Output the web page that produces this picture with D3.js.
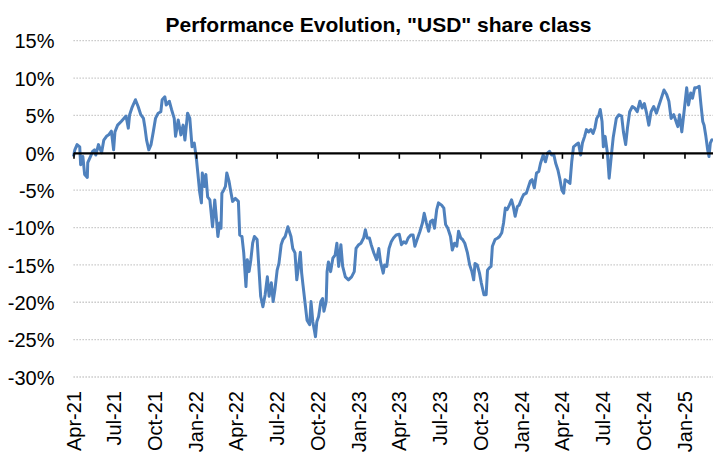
<!DOCTYPE html>
<html>
<head>
    <title>Performance Evolution</title>
    <script src="https://d3js.org/d3.v7.min.js"></script>
    <style>
        body { margin: 0; background: #fff; }
        svg { display: block; }
        text { font-family: Arial, "Liberation Sans", sans-serif; fill: #000; }
    </style>
</head>
<body>
    <div id="chart"></div>
    <script>
        // Values (cumulative performance, %)
        const dates = [
            "2021-04-01","2021-04-04","2021-04-09","2021-04-15","2021-04-17","2021-04-22","2021-04-26",
            "2021-05-02","2021-05-03","2021-05-09","2021-05-14","2021-05-18","2021-05-21","2021-05-27",
            "2021-06-03","2021-06-08","2021-06-14","2021-06-19","2021-06-25","2021-06-30",
            "2021-07-03","2021-07-09","2021-07-17","2021-07-23","2021-07-28",
            "2021-08-02","2021-08-05","2021-08-10","2021-08-18","2021-08-24","2021-08-30",
            "2021-09-05","2021-09-08","2021-09-12","2021-09-17","2021-09-22","2021-09-27",
            "2021-10-02","2021-10-08","2021-10-14","2021-10-17","2021-10-23","2021-10-26",
            "2021-11-02","2021-11-07","2021-11-13","2021-11-16","2021-11-22","2021-11-28",
            "2021-12-03","2021-12-07","2021-12-13","2021-12-18","2021-12-23","2021-12-28",
            "2022-01-02","2022-01-05","2022-01-09","2022-01-13","2022-01-15","2022-01-20","2022-01-23","2022-01-27",
            "2022-02-01","2022-02-07","2022-02-12","2022-02-16","2022-02-19","2022-02-23","2022-02-26","2022-02-28",
            "2022-03-04","2022-03-08","2022-03-11","2022-03-16","2022-03-20","2022-03-24","2022-03-30",
            "2022-04-06","2022-04-09","2022-04-14","2022-04-18","2022-04-23","2022-04-26","2022-04-30",
            "2022-05-04","2022-05-08","2022-05-12","2022-05-18","2022-05-22","2022-05-26","2022-05-31",
            "2022-06-05","2022-06-10","2022-06-14","2022-06-19","2022-06-23","2022-06-27",
            "2022-07-02","2022-07-06","2022-07-11","2022-07-15","2022-07-20","2022-07-26",
            "2022-08-02","2022-08-06","2022-08-11","2022-08-15","2022-08-19","2022-08-23","2022-08-26","2022-08-29",
            "2022-09-03","2022-09-07","2022-09-13","2022-09-16","2022-09-20","2022-09-24","2022-09-26","2022-09-29",
            "2022-10-03","2022-10-08","2022-10-12","2022-10-15","2022-10-20","2022-10-22","2022-10-25","2022-10-30",
            "2022-11-04","2022-11-09","2022-11-13","2022-11-17","2022-11-22","2022-11-26",
            "2022-12-02","2022-12-09","2022-12-16","2022-12-22","2022-12-26",
            "2023-01-01","2023-01-06","2023-01-12","2023-01-16","2023-01-20","2023-01-25","2023-01-29",
            "2023-02-04","2023-02-10","2023-02-15","2023-02-19","2023-02-25","2023-02-28",
            "2023-03-05","2023-03-10","2023-03-15","2023-03-20","2023-03-26",
            "2023-04-02","2023-04-07","2023-04-12","2023-04-17","2023-04-22","2023-04-28",
            "2023-05-03","2023-05-07","2023-05-12","2023-05-18","2023-05-24","2023-05-28",
            "2023-06-02","2023-06-07","2023-06-11","2023-06-16","2023-06-20","2023-06-25","2023-06-29",
            "2023-07-06","2023-07-11","2023-07-15","2023-07-20","2023-07-26","2023-07-30",
            "2023-08-04","2023-08-09","2023-08-13","2023-08-18","2023-08-22","2023-08-27",
            "2023-09-02","2023-09-07","2023-09-12","2023-09-16","2023-09-19","2023-09-24","2023-09-29",
            "2023-10-03","2023-10-09","2023-10-14","2023-10-17","2023-10-21","2023-10-25","2023-10-28",
            "2023-11-03","2023-11-09","2023-11-13","2023-11-18","2023-11-22","2023-11-26","2023-11-30",
            "2023-12-05","2023-12-10","2023-12-14","2023-12-18","2023-12-23","2023-12-27",
            "2024-01-02","2024-01-06","2024-01-12","2024-01-16","2024-01-21","2024-01-25","2024-01-30",
            "2024-02-04","2024-02-09","2024-02-13","2024-02-19","2024-02-24","2024-02-29",
            "2024-03-04","2024-03-09","2024-03-14","2024-03-18","2024-03-23","2024-03-27",
            "2024-04-01","2024-04-05","2024-04-08","2024-04-13","2024-04-19","2024-04-23","2024-04-27",
            "2024-05-03","2024-05-08","2024-05-13","2024-05-17","2024-05-22","2024-05-26","2024-05-31",
            "2024-06-05","2024-06-10","2024-06-14","2024-06-18","2024-06-23","2024-06-26","2024-06-30",
            "2024-07-03","2024-07-07","2024-07-12","2024-07-16","2024-07-21","2024-07-25",
            "2024-08-01","2024-08-07","2024-08-13","2024-08-17","2024-08-22","2024-08-26","2024-08-31",
            "2024-09-06","2024-09-11","2024-09-17","2024-09-23","2024-09-28",
            "2024-10-03","2024-10-08","2024-10-13","2024-10-18","2024-10-24","2024-10-30",
            "2024-11-05","2024-11-10","2024-11-16","2024-11-22","2024-11-27",
            "2024-12-02","2024-12-08","2024-12-12","2024-12-17","2024-12-21","2024-12-26",
            "2025-01-01","2025-01-06","2025-01-10","2025-01-15","2025-01-19","2025-01-24","2025-01-28",
            "2025-02-03","2025-02-07","2025-02-11","2025-02-14","2025-02-18","2025-02-22","2025-02-25","2025-02-28",
            "2025-03-03","2025-03-06"
        ];
        const values = [
            -0.5, 0.4, 1.1, 0.8, -1.6, -0.5, -2.9,
            -3.3, -1.3, -0.5, 0.2, 0.4, -0.3, 1.1,
            0.0, 1.7, 2.2, 2.4, 2.9, 0.4,
            2.8, 3.7, 4.2, 4.6, 4.9,
            3.3, 5.1, 6.0, 7.1, 6.2, 5.1,
            4.6, 3.5, 1.7, 0.4, 1.1, 2.8,
            4.6, 5.3, 5.5, 7.1, 7.5, 6.4,
            6.9, 5.8, 4.6, 2.2, 4.4, 2.4,
            3.7, 1.7, 5.3, 4.6, 0.8, 1.3,
            -0.9, -2.7, -5.2, -6.7, -2.7, -4.5, -2.9, -5.9,
            -6.3, -9.9, -6.3, -9.0, -11.2, -9.4, -10.1, -5.4,
            -5.0, -4.5, -2.7, -3.8, -5.2, -6.5, -6.1,
            -6.5, -11.0, -11.2, -13.4, -17.9, -14.3, -15.9,
            -14.3, -12.1, -11.2, -11.6, -15.4, -19.2, -20.6,
            -19.0, -16.6, -19.2, -17.4, -19.9, -18.3,
            -15.7, -14.8, -12.3, -11.6, -11.2, -9.9,
            -11.2, -12.8, -13.4, -17.0, -15.2, -13.3, -16.1, -17.7,
            -20.3, -22.4, -23.0, -19.9, -22.6, -23.9, -24.6, -22.6,
            -21.9, -19.9, -19.5, -21.2, -19.9, -15.9, -14.6, -15.9,
            -14.1, -13.7, -12.1, -15.2, -12.3, -15.2,
            -16.6, -17.0, -16.6, -15.9, -12.8,
            -12.3, -12.1, -11.4, -10.3, -11.4, -11.4, -12.3,
            -13.4, -14.3, -12.8, -14.6, -16.1, -15.0,
            -15.2, -12.8, -11.9, -11.4, -11.0,
            -10.9, -12.3, -11.9, -12.1, -11.4, -11.0,
            -11.0, -12.5, -11.6, -10.6, -9.4, -8.1,
            -9.4, -10.5, -9.2, -9.0, -10.1, -7.6, -6.7,
            -7.0, -7.4, -9.6, -10.1, -11.2, -13.0,
            -12.1, -12.5, -10.5, -11.4, -11.6, -12.1,
            -13.4, -15.0, -15.9, -17.0, -14.8, -15.0, -16.1,
            -17.4, -19.0, -19.0, -15.7, -15.4, -15.2, -12.5,
            -11.6, -11.4, -11.2, -10.7, -9.4, -7.4, -7.6,
            -7.0, -6.3, -7.2, -8.5, -7.2, -7.0,
            -6.1, -5.6, -5.4, -4.7, -3.8, -3.6, -4.7,
            -2.7, -2.5, -1.4, -0.3, -1.2, 0.0,
            0.2, -0.3, -0.3, -1.4, -2.3, -3.4,
            -5.0, -5.4, -3.6, -3.8, -4.1, -1.2, 0.8,
            1.1, 1.3, -0.3, 1.3, 2.2, 3.1, 2.8,
            3.1, 2.6, 3.3, 4.6, 5.1, 5.8, 4.2,
            0.8, 2.2, 0.0, -3.4, -0.3, 2.0,
            4.6, 5.1, 4.9, 2.8, 1.1, 3.3, 5.5,
            6.2, 6.0, 5.5, 6.9, 6.0,
            6.6, 5.3, 3.7, 5.5, 6.2, 5.3,
            6.4, 7.3, 8.4, 7.8, 6.9,
            4.6, 5.1, 4.4, 3.5, 5.1, 2.8,
            6.0, 8.7, 6.4, 8.0, 7.3, 8.7, 8.7,
            8.9, 6.4, 4.2, 3.7, 2.2, 0.4, -0.5, 1.3,
            1.7, 1.8
        ];
        const yTicks = [15, 10, 5, 0, -5, -10, -15, -20, -25, -30];
        const chartTitle = 'Performance Evolution, "USD" share class';

        const width = 713, height = 453;
        const margin = { top: 40.7, right: 0, bottom: 76, left: 73.5 };

        const parse = d3.timeParse("%Y-%m-%d");
        const data = dates.map((d, i) => ({ date: parse(d), value: values[i] }));

        const svg = d3.select("#chart")
            .append("svg")
            .attr("width", width)
            .attr("height", height);

        const x = d3.scaleTime()
            .domain([parse("2021-04-01"), parse("2025-03-06")])
            .range([margin.left, width - margin.right]);

        const y = d3.scaleLinear()
            .domain([-30, 15])
            .range([height - margin.bottom, margin.top]);

        // Dotted gridlines
        svg.append("g")
            .selectAll("line")
            .data(yTicks.filter(t => t !== 0))
            .enter()
            .append("line")
            .attr("x1", margin.left)
            .attr("x2", width - margin.right)
            .attr("y1", d => y(d))
            .attr("y2", d => y(d))
            .style("stroke", "#c0c0c0")
            .style("stroke-width", 1.3)
            .style("stroke-dasharray", "1.3,1.7");

        // Y axis labels
        const yAxis = d3.axisLeft(y)
            .tickValues(yTicks)
            .tickSize(0)
            .tickPadding(0)
            .tickFormat(d => d + "%");
        svg.append("g")
            .attr("transform", `translate(${margin.left - 19},0)`)
            .call(yAxis)
            .call(g => g.select(".domain").remove())
            .call(g => g.selectAll("text")
                .style("font-size", "20px")
                .style("font-family", "Arial, 'Liberation Sans', sans-serif")
                .attr("dy", "0.36em"));

        // Series line
        const line = d3.line()
            .x(d => x(d.date))
            .y(d => y(d.value));

        svg.append("path")
            .datum(data)
            .attr("d", line)
            .style("fill", "none")
            .style("stroke", "#4F81BD")
            .style("stroke-width", 3)
            .style("stroke-linejoin", "round");

        // Zero axis with quarterly ticks
        const quarters = d3.timeMonth.every(3).range(parse("2021-04-01"), parse("2025-03-06"));
        const xAxis = d3.axisBottom(x)
            .tickValues(quarters)
            .tickSize(6)
            .tickSizeOuter(0)
            .tickFormat("");
        svg.append("g")
            .attr("transform", `translate(0,${y(0)})`)
            .call(xAxis)
            .call(g => g.select(".domain").style("stroke", "#000").style("stroke-width", 2.2))
            .call(g => g.selectAll(".tick line").style("stroke", "#000").style("stroke-width", 1.6));

        // Rotated date labels at the bottom
        const fmt = d3.timeFormat("%b-%y");
        svg.append("g")
            .selectAll("text")
            .data(quarters)
            .enter()
            .append("text")
            .attr("transform", d => `translate(${x(d)},391) rotate(-90)`)
            .attr("dy", "0.36em")
            .style("text-anchor", "end")
            .style("font-size", "20px")
            .text(d => fmt(d));

        // Title
        svg.append("text")
            .attr("x", 378.5)
            .attr("y", 31.5)
            .style("text-anchor", "middle")
            .style("font-size", "21px")
            .style("font-weight", "bold")
            .text(chartTitle);
    </script>
</body>
</html>
